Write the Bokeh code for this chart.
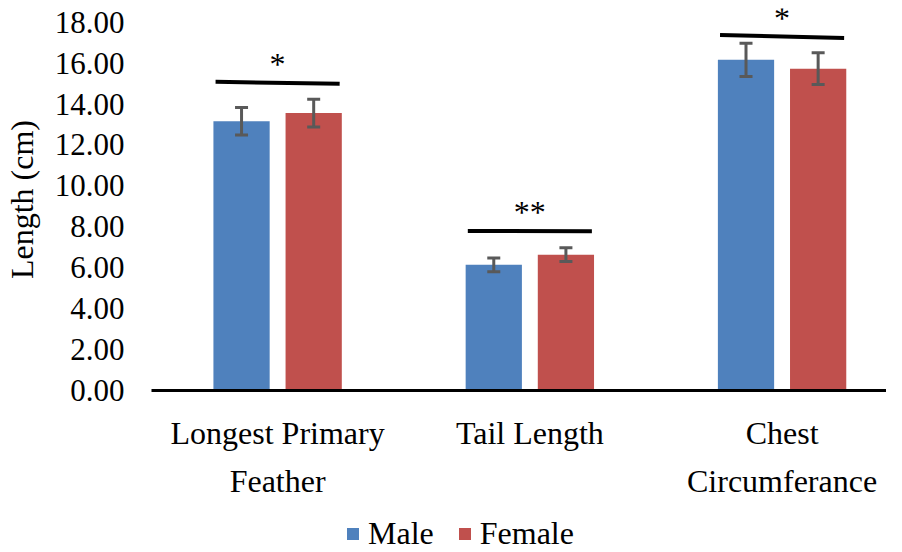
from bokeh.plotting import figure
from bokeh.layouts import column
from bokeh.models import (Range1d, FixedTicker, PrintfTickFormatter, ColumnDataSource,
                          Whisker, TeeHead, Legend, LegendItem)
from bokeh.core.properties import value
from bokeh.embed import file_html
from bokeh.resources import INLINE

# ---- data ----
categories = ["Longest Primary\nFeather", "Tail Length", "Chest\nCircumferance"]
male = [13.16, 6.14, 16.16]
female = [13.56, 6.64, 15.73]
male_err = [0.67, 0.34, 0.81]
female_err = [0.68, 0.34, 0.78]
sig_left = [15.09, 7.80, 17.37]
sig_right = [14.99, 7.78, 17.23]
sig_text_y = [15.95, 8.7, 18.23]
sig_labels = ["*", "**", "*"]
y_ticks = [0, 2, 4, 6, 8, 10, 12, 14, 16, 18]
series_names = ["Male", "Female"]

FONT = "Liberation Serif"
BLUE = "#4F81BD"
RED = "#C0504D"
ERR = "#595959"

OFF = 0.143
BW = 0.223
idx = list(range(len(categories)))
x_m = [i - OFF for i in idx]
x_f = [i + OFF for i in idx]

p = figure(width=886, height=512, x_range=Range1d(-0.5, 2.414), y_range=Range1d(0, 18.67),
           output_backend="svg", toolbar_location=None,
           min_border_left=145, min_border_right=0, min_border_top=8, min_border_bottom=122)
p.outline_line_color = None
p.xgrid.visible = False
p.ygrid.visible = False

src_m = ColumnDataSource(dict(x=x_m, top=male, upper=[v + e for v, e in zip(male, male_err)],
                              lower=[v - e for v, e in zip(male, male_err)]))
src_f = ColumnDataSource(dict(x=x_f, top=female, upper=[v + e for v, e in zip(female, female_err)],
                              lower=[v - e for v, e in zip(female, female_err)]))

p.vbar(x="x", top="top", width=BW, source=src_m, fill_color=BLUE, line_color=None)
p.vbar(x="x", top="top", width=BW, source=src_f, fill_color=RED, line_color=None)

for src in (src_m, src_f):
    w = Whisker(source=src, base="x", upper="upper", lower="lower",
                line_color=ERR, line_width=3,
                upper_head=TeeHead(size=13, line_color=ERR, line_width=3),
                lower_head=TeeHead(size=13, line_color=ERR, line_width=3))
    w.level = "overlay"
    p.add_layout(w)

p.segment(x0=[i - 0.246 for i in idx], y0=sig_left, x1=[i + 0.246 for i in idx], y1=sig_right,
          line_color="black", line_width=4)
p.text(x=idx, y=sig_text_y, text=sig_labels, text_font=value(FONT), text_font_size="32px",
       text_align="center", text_baseline="middle", text_color="black")

# axes
p.xaxis.ticker = FixedTicker(ticks=idx)
p.xaxis.major_label_overrides = {i: c for i, c in enumerate(categories)}
p.xaxis.axis_line_width = 3
p.xaxis.axis_line_color = "black"
p.xaxis.major_tick_line_color = None
p.xaxis.minor_tick_line_color = None
p.xaxis.major_label_text_font = FONT
p.xaxis.major_label_text_font_size = "32px"
p.xaxis.major_label_text_color = "black"
p.xaxis.major_label_text_line_height = 1.36
p.xaxis.major_label_standoff = 18

p.yaxis.ticker = FixedTicker(ticks=y_ticks)
p.yaxis.formatter = PrintfTickFormatter(format="%.2f")
p.yaxis.axis_line_color = None
p.yaxis.major_tick_line_color = None
p.yaxis.minor_tick_line_color = None
p.yaxis.major_label_text_font = FONT
p.yaxis.major_label_text_font_size = "31px"
p.yaxis.major_label_text_color = "black"
p.yaxis.major_label_standoff = 21
p.yaxis.axis_label = "Length (cm)"
p.yaxis.axis_label_text_font = FONT
p.yaxis.axis_label_text_font_size = "32px"
p.yaxis.axis_label_text_font_style = "normal"
p.yaxis.axis_label_text_color = "black"
p.yaxis.axis_label_standoff = 12

# legend strip below the chart (its frame is aligned with the chart frame by the column)
lf = figure(width=886, height=40, x_range=Range1d(0, 1), y_range=Range1d(0, 1),
            output_backend="svg", toolbar_location=None,
            x_axis_location=None, y_axis_location=None, min_border=0)
lf.outline_line_color = None
lf.xgrid.visible = False
lf.ygrid.visible = False
# legend swatches only: zero-height bars, nothing visible in the strip itself
lm = lf.vbar(x=[0.5], top=[0], width=0.1, fill_color=BLUE, line_color=None)
lfe = lf.vbar(x=[0.5], top=[0], width=0.1, fill_color=RED, line_color=None)
legend = Legend(items=[LegendItem(label=series_names[0], renderers=[lm]),
                       LegendItem(label=series_names[1], renderers=[lfe])],
                orientation="horizontal", location=(194, 0))
legend.glyph_width = 15
legend.glyph_height = 15
legend.label_text_font = FONT
legend.label_text_font_size = "32px"
legend.label_text_color = "black"
legend.label_standoff = 8
legend.spacing = 23
legend.padding = 0
legend.margin = 0
legend.border_line_color = None
legend.background_fill_alpha = 0
lf.add_layout(legend)

layout = column(p, lf, spacing=0)
open("out.html", "w").write(file_html(layout, INLINE))
